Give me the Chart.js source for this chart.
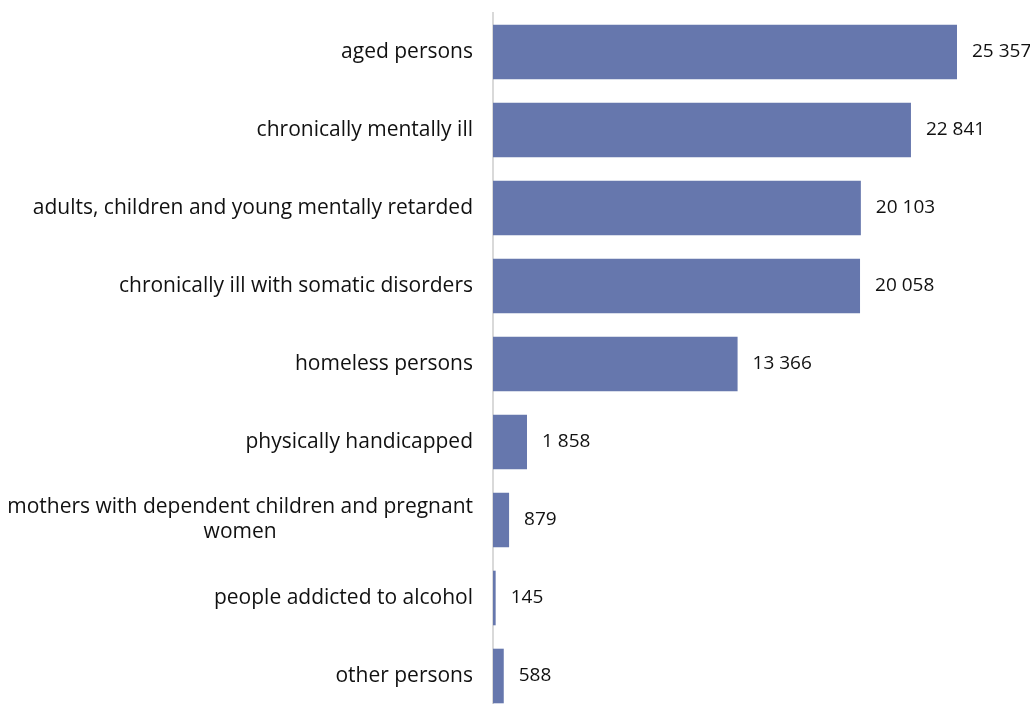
<!DOCTYPE html>
<html>
<head>
<meta charset="utf-8">
<script src="https://cdn.jsdelivr.net/npm/chart.js@4.4.1/dist/chart.umd.min.js"></script>
<style>
    html, body { margin: 0; padding: 0; background: #ffffff; overflow: hidden; }
    #wrap { width: 1030px; height: 716px; position: relative; }
</style>
</head>
<body>
<div id="wrap"><canvas id="chart"></canvas></div>
<script>
// categories (multi-line labels are arrays)
let categories = [
    'aged persons',
    'chronically mentally ill',
    'adults, children and young mentally retarded',
    'chronically ill with somatic disorders',
    'homeless persons',
    'physically handicapped',
    ['mothers with dependent children and pregnant', 'women'],
    'people addicted to alcohol',
    'other persons'
];
let values = [25357, 22841, 20103, 20058, 13366, 1858, 879, 145, 588];

const CAT_FONT = '21px "Open Sans", "Noto Sans", sans-serif';
const VALUE_FONT = '19px "Open Sans", "Noto Sans", sans-serif';
const TEXT_COLOR = '#111111';

function formatNumber(v) {
    return String(v).replace(/\B(?=(\d{3})+(?!\d))/g, ' ');
}

// draws category names and value labels
const labelPlugin = {
    id: 'labelPlugin',
    afterDatasetsDraw(chart) {
        let ctx = chart.ctx;
        let meta = chart.getDatasetMeta(0);
        let rightX = chart.chartArea.left - 20;
        ctx.save();
        ctx.fillStyle = TEXT_COLOR;
        ctx.textBaseline = 'middle';
        for (let i = 0; i < meta.data.length; i++) {
            let bar = meta.data[i];
            // value
            ctx.font = VALUE_FONT;
            ctx.textAlign = 'left';
            ctx.fillText(formatNumber(values[i]), bar.x + 15, bar.y);
            // category
            ctx.font = CAT_FONT;
            let lines = Array.isArray(categories[i]) ? categories[i] : [categories[i]];
            let widest = 0;
            lines.forEach(l => { widest = Math.max(widest, ctx.measureText(l).width); });
            let lineHeight = 25;
            let startY = bar.y - (lines.length - 1) * lineHeight / 2;
            ctx.textAlign = lines.length > 1 ? 'center' : 'right';
            let x = lines.length > 1 ? rightX - widest / 2 : rightX;
            lines.forEach((l, j) => ctx.fillText(l, x, startY + j * lineHeight));
        }
        ctx.restore();
    }
};

new Chart(document.getElementById('chart'), {
    type: 'bar',
    data: {
        labels: categories,
        datasets: [{
            data: values,
            backgroundColor: '#6677ad',
            borderWidth: 0,
            categoryPercentage: 1.0,
            barPercentage: 0.7
        }]
    },
    options: {
        indexAxis: 'y',
        responsive: true,
        maintainAspectRatio: false,
        animation: false,
        layout: { padding: { top: 13, right: 10, bottom: 1, left: 0 } },
        plugins: {
            legend: { display: false },
            tooltip: { enabled: false }
        },
        scales: {
            x: {
                display: false,
                min: 0,
                max: 28800
            },
            y: {
                grid: { display: false },
                border: { display: true, color: '#d9d9d9', width: 2 },
                ticks: { display: false },
                afterFit: function (scale) { scale.width = 493; }
            }
        }
    },
    plugins: [labelPlugin]
});
</script>
</body>
</html>
